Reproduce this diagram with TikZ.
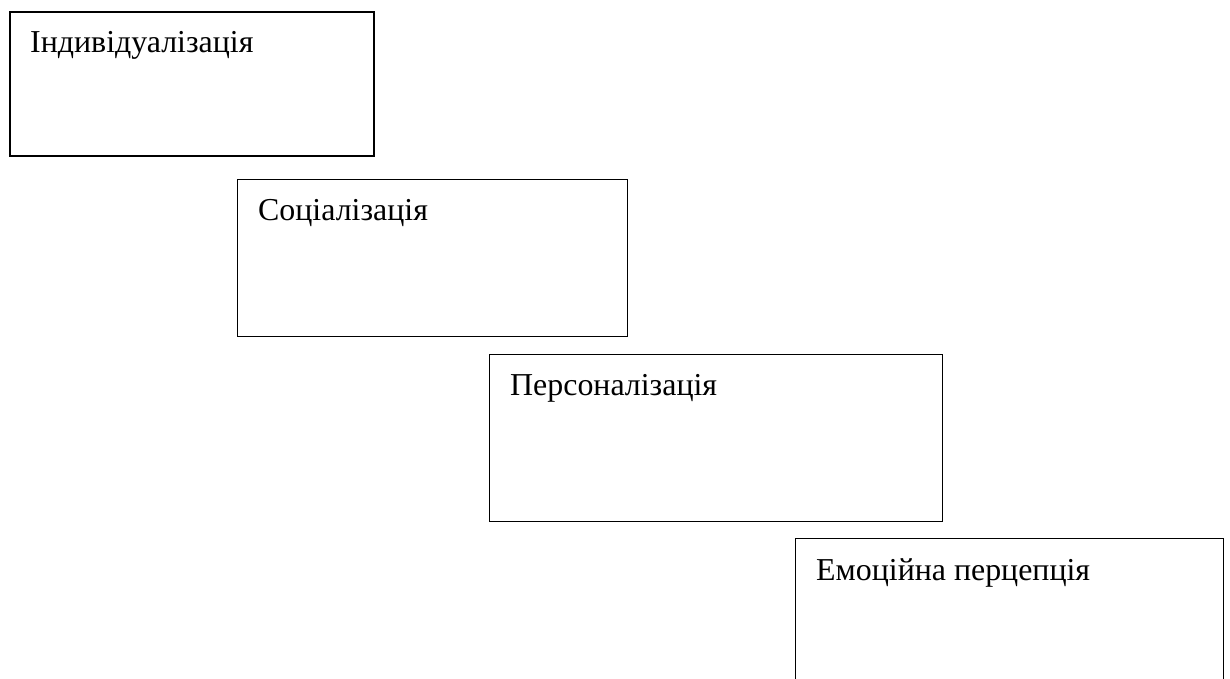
\documentclass[tikz,border=0pt]{standalone}
\usepackage{fontspec}
\setmainfont{Liberation Serif}
\usetikzlibrary{calc}
\tikzset{
  x=1pt, y=-1pt,
  stagebox/.style={draw=black, line width=1pt, fill=none, inner sep=0pt, anchor=north west},
  thickbox/.style={stagebox, line width=2.4pt},
  stagetext/.style={anchor=base west, inner sep=0pt, font=\fontsize{31.9}{36}\selectfont}
}
\begin{document}
\begin{tikzpicture}
\useasboundingbox (0,0) rectangle (1230,679);
\clip (0,0) rectangle (1230,679);
\node[thickbox, minimum width=364pt, minimum height=144pt] (b1) at (9,11) {};
\node[stagebox, minimum width=390pt, minimum height=157pt] (b2) at (237,179) {};
\node[stagebox, minimum width=453pt, minimum height=167pt] (b3) at (489,354) {};
\node[stagebox, minimum width=428pt, minimum height=160pt] (b4) at (795,538) {};
\node[stagetext] (t1) at ($(b1.north west)+(21,42)$) {Індивідуалізація};
\node[stagetext] (t2) at ($(b2.north west)+(21,41)$) {Соціалізація};
\node[stagetext] (t3) at ($(b3.north west)+(21,41)$) {Персоналізація};
\node[stagetext] (t4) at ($(b4.north west)+(21,42)$) {Емоційна перцепція};
\end{tikzpicture}
\end{document}
